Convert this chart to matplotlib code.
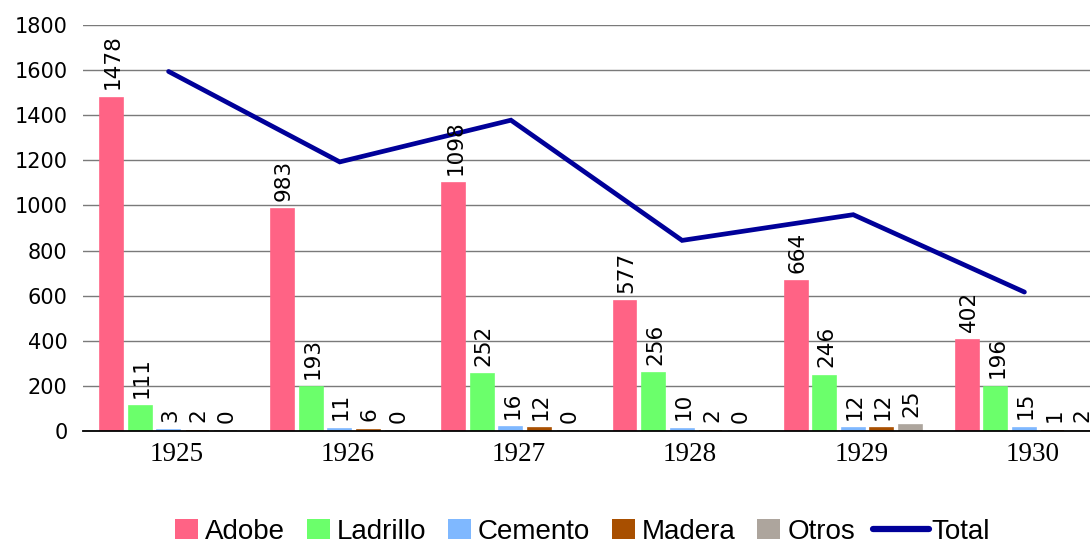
import matplotlib
matplotlib.use("Agg")
import matplotlib.pyplot as plt
import matplotlib.transforms as mtransforms
from matplotlib.patches import Patch
from matplotlib.lines import Line2D
import numpy as np

years = ["1925", "1926", "1927", "1928", "1929", "1930"]
series_names = ["Adobe", "Ladrillo", "Cemento", "Madera", "Otros"]
adobe = [1478, 983, 1098, 577, 664, 402]
ladrillo = [111, 193, 252, 256, 246, 196]
cemento = [3, 11, 16, 10, 12, 15]
madera = [2, 6, 12, 2, 12, 1]
otros = [0, 0, 0, 0, 25, 2]
total = [1594, 1193, 1378, 845, 959, 616]
yticks = [0, 200, 400, 600, 800, 1000, 1200, 1400, 1600, 1800]

series = [adobe, ladrillo, cemento, madera, otros]
colors = ["#ff6385", "#6bff6b", "#7fb8ff", "#a84f00", "#ada59d"]
line_color = "#000099"

fig = plt.figure(figsize=(10.9, 5.44), dpi=100)
ax = fig.add_axes([83 / 1090, 113 / 544, 1027 / 1090, 406 / 544])

x = np.arange(len(years))
step = 0.1667
width = 0.134
for i, (vals, col) in enumerate(zip(series, colors)):
    pos = x + (i - 2) * step
    ax.bar(pos, vals, width=width, color=col, edgecolor=col, linewidth=1.2,
           zorder=2)
    for px, v in zip(pos, vals):
        ax.annotate(str(v), (px, v), xytext=(1, 6), textcoords="offset points",
                    rotation=90, ha="center", va="bottom", fontsize=15.5,
                    family="DejaVu Sans", color="black", zorder=4)

ax.plot(x, total, color=line_color, lw=3.4, zorder=3, solid_capstyle="round",
        solid_joinstyle="miter")

ax.set_xlim(-0.5, len(years) - 0.5)
ax.set_ylim(0, 1800)
ax.set_yticks(yticks)
ax.set_yticklabels([str(t) for t in yticks], fontsize=15, family="DejaVu Sans")
ax.set_xticks(x)
ax.set_xticklabels(years, fontsize=19.5, family="Liberation Serif")
ax.tick_params(axis="y", length=0, pad=11)
ax.tick_params(axis="x", length=0, pad=8)
offset = mtransforms.ScaledTranslation(8 / 100, 0, fig.dpi_scale_trans)
for lab in ax.get_xticklabels():
    lab.set_transform(lab.get_transform() + offset)

ax.yaxis.grid(True, color="#7a7a7a", lw=1.0, zorder=0)
ax.set_axisbelow(True)
for s in ["top", "right", "left"]:
    ax.spines[s].set_visible(False)
ax.spines["bottom"].set_color("black")
ax.spines["bottom"].set_linewidth(1.3)
ax.spines["bottom"].set_zorder(5)

handles = [Patch(facecolor=c, edgecolor="none") for c in colors]
leg1 = fig.legend(handles, series_names, loc="center left",
                  bbox_to_anchor=(175 / 1090, 12 / 544), ncol=5, frameon=False,
                  prop={"family": "Liberation Sans", "size": 20},
                  handlelength=0.83, handleheight=0.72, handletextpad=0.25,
                  columnspacing=0.78, borderpad=0, borderaxespad=0)
leg2 = fig.legend([Line2D([0], [0], color=line_color, lw=4.5, solid_capstyle="round")],
                  ["Total"], loc="center left",
                  bbox_to_anchor=(873 / 1090, 12 / 544), frameon=False,
                  prop={"family": "Liberation Sans", "size": 20},
                  handlelength=2.0, handletextpad=0.1, borderpad=0, borderaxespad=0)

fig.savefig("out.png", dpi=100)
